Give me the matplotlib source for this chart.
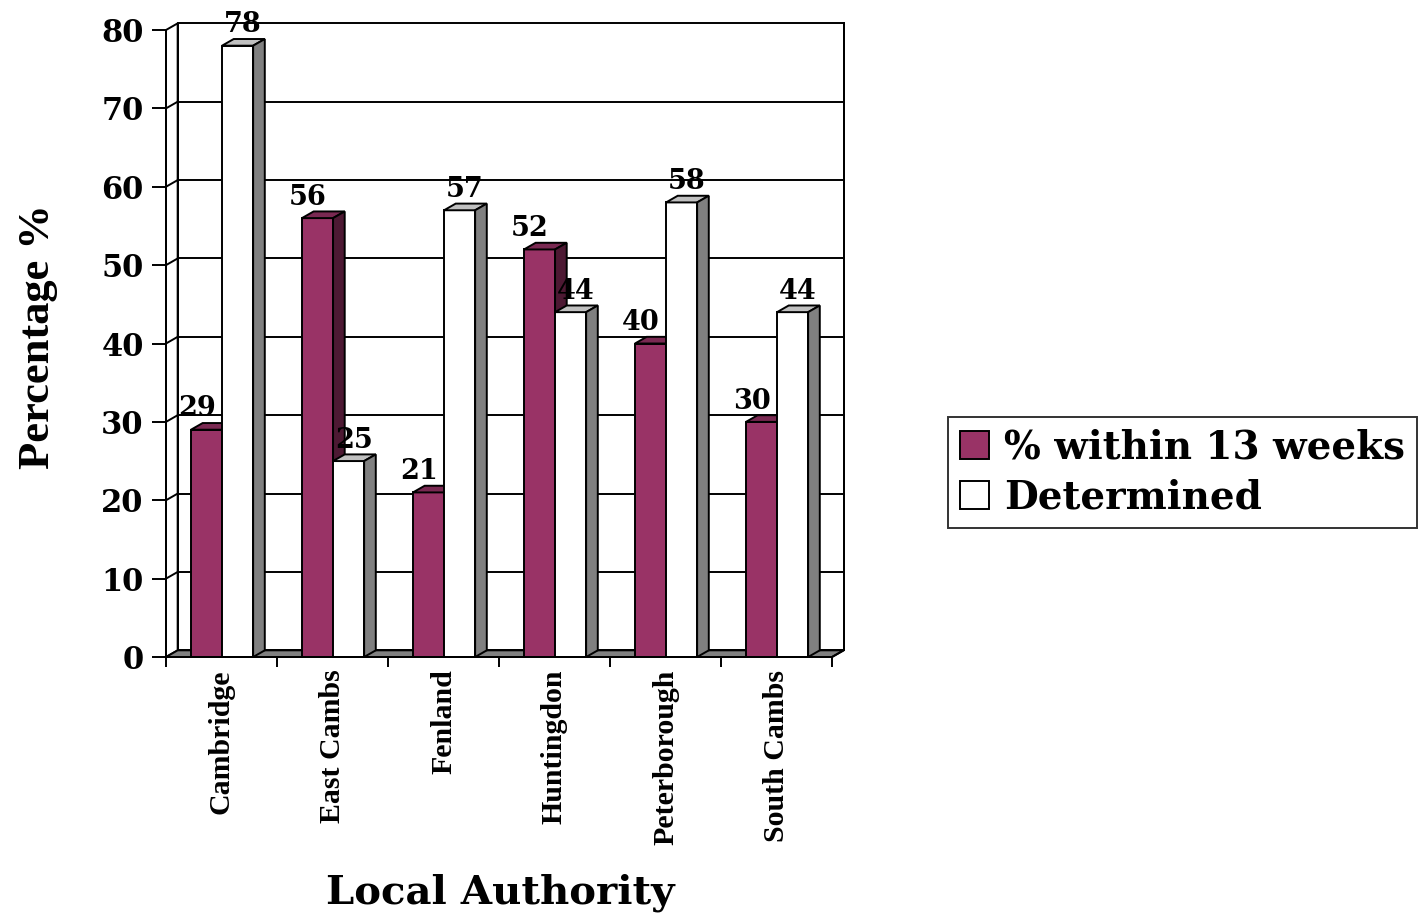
import matplotlib
matplotlib.use("Agg")
import matplotlib.pyplot as plt
from matplotlib.patches import Polygon, Patch

# Data
authorities = ['Cambridge', 'East Cambs', 'Fenland', 'Huntingdon', 'Peterborough', 'South Cambs']
within_13_weeks = [29, 56, 21, 52, 40, 30]
determined = [78, 25, 57, 44, 58, 44]
series_names = ['% within 13 weeks', 'Determined']
y_ticks = [0, 10, 20, 30, 40, 50, 60, 70, 80]

# colours: front, top, side
maroon = ('#993366', '#7A2952', '#4D1933')
white = ('#FFFFFF', '#C0C0C0', '#808080')

# the source renders horizontal text wide, DejaVu Serif gets closest
wide = ['DejaVu Serif']
narrow = ['Liberation Serif', 'DejaVu Serif']
plt.rcParams['font.family'] = wide
plt.rcParams['font.weight'] = 'bold'

fig = plt.figure(figsize=(14.2, 9.19), dpi=100)
ax = fig.add_axes([166 / 1420, 1 - 657 / 919, 666 / 1420, 627 / 919])
ax.set_xlim(0, len(authorities))
ax.set_ylim(0, 80)

# depth offset of the 3D effect in data units
dx = 0.105
dy = 0.85
lw = 1.4
n = len(authorities)

# back wall, left wall, floor
ax.add_patch(Polygon([(dx, dy), (n + dx, dy), (n + dx, 80 + dy), (dx, 80 + dy)],
                     closed=True, facecolor='white', edgecolor='black', lw=lw,
                     clip_on=False, zorder=1))
ax.add_patch(Polygon([(0, 0), (dx, dy), (dx, 80 + dy), (0, 80)],
                     closed=True, facecolor='white', edgecolor='black', lw=lw,
                     clip_on=False, zorder=1))
for v in y_ticks[1:-1]:
    ax.plot([dx, n + dx], [v + dy, v + dy], color='black', lw=lw, zorder=2, clip_on=False)
    ax.plot([0, dx], [v, v + dy], color='black', lw=lw, zorder=2, clip_on=False)
ax.add_patch(Polygon([(0, 0), (n, 0), (n + dx, dy), (dx, dy)],
                     closed=True, facecolor='#808080', edgecolor='black', lw=lw,
                     clip_on=False, zorder=3))


def bar3d(x0, w, h, colors):
    front, top, side = colors
    kw = dict(closed=True, edgecolor='black', lw=lw, clip_on=False, zorder=4, joinstyle='miter')
    ax.add_patch(Polygon([(x0, 0), (x0 + w, 0), (x0 + w, h), (x0, h)], facecolor=front, **kw))
    ax.add_patch(Polygon([(x0, h), (x0 + w, h), (x0 + w + dx, h + dy), (x0 + dx, h + dy)],
                         facecolor=top, **kw))
    ax.add_patch(Polygon([(x0 + w, 0), (x0 + w + dx, dy), (x0 + w + dx, h + dy), (x0 + w, h)],
                         facecolor=side, **kw))


bw = 0.28
start = 0.225
for i in range(n):
    bar3d(i + start, bw, within_13_weeks[i], maroon)
    bar3d(i + start + bw, bw, determined[i], white)
    ax.text(i + 0.28, within_13_weeks[i] + 1.7, str(within_13_weeks[i]), ha='center',
            va='baseline', fontsize=19.5, fontweight='bold', zorder=6, clip_on=False)
    ax.text(i + 0.69, determined[i] + 1.7, str(determined[i]), ha='center',
            va='baseline', fontsize=19.5, fontweight='bold', zorder=6, clip_on=False)

# axes: front left axis line and front floor line
for s in ['top', 'right']:
    ax.spines[s].set_visible(False)
ax.spines['left'].set_linewidth(lw)
ax.spines['bottom'].set_linewidth(lw)
ax.spines['left'].set_zorder(5)
ax.spines['bottom'].set_zorder(5)
ax.plot([n, n + dx], [0, dy], color='black', lw=lw, zorder=5, clip_on=False)
ax.plot([n + dx, n + dx], [dy, 80 + dy], color='black', lw=lw, zorder=5, clip_on=False)

ax.set_yticks(y_ticks)
ax.set_yticklabels([str(v) for v in y_ticks], fontsize=22, fontweight='bold')
ax.tick_params(axis='y', length=10, width=lw, pad=6)

ax.set_xticks(range(n + 1))
ax.set_xticklabels([])
ax.tick_params(axis='x', which='major', length=7.5, width=lw)
ax.set_xticks([i + 0.5 for i in range(n)], minor=True)
ax.set_xticklabels(authorities, minor=True, rotation=90, fontsize=21.5,
                   fontweight='bold', family=narrow)
ax.tick_params(axis='x', which='minor', length=0, pad=9)

fig.text(500 / 1420, 1 - 893 / 919, 'Local Authority', ha='center', va='center',
         fontsize=29, fontweight='bold')
fig.text(38 / 1420, 1 - 337 / 919, 'Percentage %', ha='center', va='center',
         rotation=90, fontsize=32, fontweight='bold', family=narrow)

handles = [Patch(facecolor=maroon[0], edgecolor='black', lw=lw),
           Patch(facecolor=white[0], edgecolor='black', lw=lw)]
leg = fig.legend(handles, series_names, loc='upper left',
                 bbox_to_anchor=(948 / 1420, 1 - 417 / 919),
                 prop={'weight': 'bold', 'size': 28}, frameon=True, fancybox=False,
                 handlelength=0.75, handleheight=0.75, handletextpad=0.4,
                 borderpad=0.3, labelspacing=0.3, borderaxespad=0)
leg.get_frame().set_edgecolor('black')
leg.get_frame().set_linewidth(lw)

fig.savefig('out.png', dpi=100)
